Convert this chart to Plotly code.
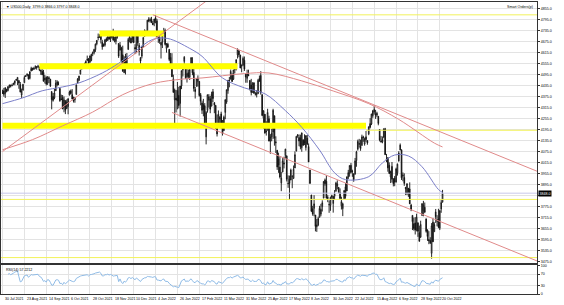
import plotly.graph_objects as go
import pandas as pd

# ---------------- data (US500 daily, 30 Jul 2021 .. 25 Oct 2022) ----------------
open_ = [
 4395, 4406,4392,4415,4408,4429,4437,4435,4442,4447,4464,4462,4462,4440,4383,4410,4450,4484,4490,4493,4474,4514,4529,
 4529,4534,4532,4535,4536,4518,4513,4506,4474,4479,4447,4477,4469,4402,4375,4367,4406,4438,4443,4419,4362,4370,
 4317,4348,4310,4320,4384,4406,4385,4368,4358,4386,4448,4463,4497,4524,4532,4550,4553,4578,4580,4562,4572,
 4610,4613,4630,4662,4699,4702,4707,4670,4659,4656,4689,4680,4701,4700,4708,4712,4679,4675,4701,4664,4628,4640,
 4602,4504,4589,4548,4631,4690,4691,4687,4710,4642,4637,4719,4653,4587,4595,4650,4703,4725,4733,4795,4788,4795,4776,
 4778,4804,4788,4693,4698,4655,4670,4729,4734,4637,4660,4632,4588,4548,4471,4357,4366,4408,4381,4337,4432,
 4519,4566,4535,4482,4505,4480,4547,4553,4506,4413,4430,4456,4457,4385,4340,4332,4325,4155,4299,4354,
 4363,4322,4401,4342,4327,4202,4224,4252,4280,4202,4189,4288,4345,4407,4462,4469,4494,4469,4522,4541,4602,4624,4600,
 4540,4547,4572,4495,4474,4494,4462,4437,4397,4449,4390,4385,4390,4473,4490,4385,4256,4278,4187,4223,4254,
 4131,4155,4181,4270,4128,4082,4036,3990,3904,3963,4013,4053,4052,3900,3927,3920,3942,3929,3985,4077,4158,4151,
 4150,4096,4137,4135,4097,4148,4102,3974,3838,3763,3765,3729,3665,3675,3716,3734,3775,3821,3920,3913,3826,3786,
 3781,3825,3792,3831,3858,3888,3880,3851,3779,3764,3818,3883,3860,3935,3955,4000,3966,3954,3951,4026,4088,
 4113,4104,4108,4154,4116,4155,4134,4171,4227,4225,4270,4290,4281,4273,4267,4195,4133,4127,4154,4199,4034,4041,4000,
 3937,3994,3924,3930,3909,3959,4022,4083,4084,3941,3933,3880,3849,3875,3871,3783,3727,3682,3686,3651,3687,3633,
 3609,3726,3753,3771,3707,3647,3595,3590,3520,3690,3638,3746,3703,3707,3657,3762,3799,
]
high = [
 4412, 4422,4424,4416,4430,4440,4439,4445,4449,4461,4468,4480,4462,4454,4418,4444,4489,4492,4501,4495,4513,4537,4531,
 4537,4545,4541,4548,4536,4521,4529,4520,4492,4485,4486,4485,4471,4402,4394,4416,4465,4463,4457,4419,4385,4383,
 4375,4356,4359,4365,4407,4413,4415,4374,4372,4440,4475,4488,4520,4540,4551,4559,4572,4598,4585,4598,4608,
 4620,4635,4664,4683,4718,4714,4709,4684,4664,4689,4697,4714,4701,4708,4717,4744,4701,4702,4706,4664,4672,4646,
 4652,4595,4608,4612,4694,4705,4695,4713,4710,4660,4712,4731,4666,4587,4651,4697,4741,4735,4791,4807,4805,4809,4787,
 4797,4819,4798,4726,4710,4673,4714,4749,4745,4666,4668,4632,4612,4611,4494,4418,4411,4454,4428,4432,4516,
 4550,4595,4543,4540,4522,4531,4588,4589,4526,4427,4472,4490,4457,4394,4352,4362,4339,4295,4385,4388,
 4378,4401,4416,4342,4327,4277,4299,4268,4292,4247,4271,4358,4412,4465,4481,4522,4501,4520,4546,4576,4637,4627,4603,
 4549,4593,4593,4503,4521,4521,4464,4471,4453,4453,4400,4410,4471,4489,4513,4386,4300,4279,4240,4308,4270,
 4170,4200,4308,4270,4158,4082,4069,4050,3964,4039,4047,4090,4052,3945,3944,3982,3942,3999,4076,4158,4170,4168,
 4167,4177,4143,4169,4165,4165,4119,3975,3839,3779,3837,3729,3707,3720,3779,3790,3809,3913,3928,3945,3837,3808,
 3829,3840,3832,3865,3910,3918,3880,3874,3829,3796,3863,3903,3939,3975,3999,4013,3976,3954,4040,4079,4140,
 4144,4140,4167,4161,4151,4187,4137,4211,4257,4280,4302,4326,4302,4292,4267,4195,4160,4157,4200,4204,4062,4044,4016,
 3971,4018,3930,3942,3987,4010,4077,4119,4087,3961,3956,3880,3900,3876,3907,3790,3727,3715,3717,3736,3687,3671,
 3698,3793,3806,3797,3711,3651,3641,3608,3685,3712,3689,3762,3728,3763,3757,3810,3866,
]
low = [
 4389, 4374,4367,4398,4403,4420,4424,4430,4436,4436,4460,4437,4417,4397,4367,4406,4450,4482,4485,4468,4468,4513,4515,
 4522,4524,4521,4532,4513,4493,4493,4457,4446,4435,4438,4448,4427,4305,4347,4360,4406,4430,4436,4346,4355,4307,
 4289,4279,4307,4278,4380,4386,4360,4342,4341,4386,4448,4460,4496,4524,4526,4531,4547,4569,4551,4559,4567,
 4595,4604,4618,4654,4681,4694,4664,4630,4648,4647,4672,4679,4684,4672,4690,4680,4670,4659,4690,4585,4626,4560,
 4510,4504,4495,4540,4631,4670,4665,4670,4667,4606,4611,4651,4598,4531,4583,4643,4703,4720,4733,4780,4778,4775,4765,
 4758,4774,4699,4667,4662,4582,4639,4716,4653,4614,4640,4568,4531,4481,4395,4222,4288,4305,4310,4265,4415,
 4484,4545,4470,4451,4471,4465,4547,4491,4402,4364,4430,4429,4374,4327,4280,4267,4221,4114,4287,4315,
 4284,4322,4345,4284,4199,4157,4224,4209,4202,4162,4187,4251,4335,4390,4425,4469,4455,4465,4501,4517,4582,4589,4530,
 4507,4540,4514,4450,4450,4487,4408,4381,4397,4392,4380,4370,4390,4455,4385,4268,4200,4175,4162,4188,4131,
 4063,4131,4144,4107,4067,3975,3959,3928,3859,3963,3983,4033,3912,3877,3811,3919,3875,3925,3985,4077,4150,4104,
 4087,4074,4107,4110,4080,4110,4018,3901,3745,3725,3722,3640,3637,3668,3716,3722,3748,3821,3889,3820,3799,3741,
 3752,3815,3742,3811,3858,3869,3847,3815,3759,3723,3817,3818,3860,3925,3938,3956,3937,3910,3951,3992,4080,
 4097,4079,4107,4128,4107,4128,4112,4164,4201,4219,4259,4277,4253,4262,4218,4130,4124,4120,4147,4057,4017,3965,3954,
 3903,3906,3885,3886,3906,3944,4022,4083,3920,3913,3888,3838,3838,3828,3789,3750,3647,3644,3623,3640,3610,3584,
 3604,3726,3722,3739,3633,3588,3570,3571,3491,3582,3638,3686,3667,3657,3647,3741,3797,
]
close = [
 4395, 4387,4423,4402,4429,4437,4432,4436,4447,4460,4468,4479,4448,4400,4405,4441,4479,4486,4496,4470,4509,4528,4523,
 4524,4537,4535,4540,4520,4514,4493,4458,4468,4443,4480,4473,4432,4358,4354,4395,4448,4455,4443,4352,4359,4307,
 4357,4300,4345,4363,4399,4391,4361,4350,4364,4438,4471,4486,4519,4536,4549,4545,4567,4574,4551,4596,4605,
 4613,4631,4660,4680,4697,4702,4685,4646,4649,4683,4682,4700,4688,4705,4698,4682,4690,4701,4700,4595,4655,4567,
 4513,4577,4538,4591,4686,4701,4667,4712,4668,4634,4709,4668,4620,4568,4649,4697,4725,4730,4791,4786,4793,4778,4766,
 4797,4793,4700,4696,4677,4670,4713,4726,4659,4663,4645,4577,4533,4483,4398,4410,4356,4350,4326,4432,4516,
 4546,4589,4477,4501,4484,4522,4587,4504,4419,4402,4472,4475,4380,4349,4300,4305,4226,4288,4385,4374,
 4306,4387,4364,4329,4201,4171,4278,4260,4204,4173,4262,4358,4412,4463,4461,4512,4457,4520,4543,4576,4632,4602,4530,
 4546,4583,4525,4481,4500,4488,4413,4397,4447,4392,4388,4391,4463,4459,4394,4272,4297,4175,4184,4288,4132,
 4155,4175,4300,4147,4123,3991,4001,3936,3930,4024,4008,4088,3924,3901,3901,3974,3941,3979,4058,4158,4165,4132,
 4101,4177,4109,4121,4161,4116,4018,3901,3750,3735,3790,3667,3675,3710,3765,3760,3796,3912,3900,3821,3819,3785,
 3825,3835,3831,3845,3903,3899,3855,3819,3802,3790,3863,3831,3937,3960,3999,3962,3967,3921,4024,4073,4130,
 4119,4091,4155,4152,4145,4140,4122,4210,4207,4280,4297,4305,4275,4284,4228,4138,4128,4141,4199,4058,4031,3986,3955,
 3966,3924,3900,3908,3980,4006,4067,4110,3932,3946,3901,3873,3900,3856,3790,3758,3693,3655,3647,3719,3640,3586,
 3678,3791,3783,3745,3640,3612,3589,3577,3670,3583,3677,3720,3695,3665,3752,3797,3848,
]

date_labels = ["30 Jul 2021", "23 Aug 2021", "14 Sep 2021", "6 Oct 2021", "28 Oct 2021",
               "18 Nov 2021", "10 Dec 2021", "4 Jan 2022", "26 Jan 2022", "17 Feb 2022",
               "11 Mar 2022", "31 Mar 2022", "25 Apr 2022", "17 May 2022", "8 Jun 2022",
               "30 Jun 2022", "22 Jul 2022", "15 Aug 2022", "6 Sep 2022", "28 Sep 2022",
               "20 Oct 2022"]
label_every = 16

price_ticks = [3475 + 60 * k for k in range(24)]
rsi_ticks = [0, 30, 70, 100]

# moving averages (bar index, price)
ma_fast_bar = [0, 15, 29, 44, 56, 73, 85, 97, 110, 121, 137, 146, 161, 177, 192, 207, 219, 232,
               243, 251, 268, 278, 287, 297, 307, 319, 322]
ma_fast_val = [4336, 4368, 4406, 4427, 4449, 4503, 4556, 4621, 4686, 4691, 4637, 4594, 4476, 4422,
               4390, 4298, 4207, 4083, 3959, 3922, 3938, 4013, 4056, 4051, 3992, 3868, 3852]
ma_slow_bar = [0, 22, 44, 66, 88, 110, 132, 146, 161, 177, 195, 219, 242, 268, 290, 316, 322]
ma_slow_val = [4085, 4140, 4215, 4290, 4385, 4445, 4470, 4476, 4488, 4500, 4503, 4460, 4405,
               4336, 4250, 4121, 4100]

# trend lines (bar, price)
trend_up_bar, trend_up_val = [0, 160], [4075, 4955]
chan_top_bar, chan_top_val = [110, 395], [4820, 3956]
chan_bot_bar, chan_bot_val = [124, 395], [4288, 3467]

# support / resistance zones (price, first bar, last bar)
zone_price = [4718, 4540, 4215]
zone_from = [71, 27, 0]
zone_to = [118, 172, 266]
level_price = [4820, 4191, 3814, 3497]
level_from = [-5, 266, -5, -5]

# ---------------- geometry ----------------
W, H = 564, 305
PLOT_R = 537
MAIN_T, MAIN_B = 0, 264
RSI_T, RSI_B = 267, 296
PX_BAR = 1.369
X0 = -1.1
X1 = X0 + PLOT_R / PX_BAR
Y_LO, Y_HI = 3470, 4890
PRICE_PER_PX = (Y_HI - Y_LO) / (MAIN_B - MAIN_T)

n = len(close)
assert len(open_) == len(high) == len(low) == n
idx = list(range(n))

s = pd.Series(close, dtype=float)
d = s.diff()
up = d.clip(lower=0).ewm(alpha=1 / 14, adjust=True, min_periods=4).mean()
dn = (-d.clip(upper=0)).ewm(alpha=1 / 14, adjust=True, min_periods=4).mean()
rsi = 100 - 100 / (1 + up / dn)

FONT = "Liberation Sans"
FS = 3.6
GRID = "#e3e3e3"

fig = go.Figure()

for lv, lf in zip(level_price, level_from):
    fig.add_trace(go.Scatter(x=[lf, 420], y=[lv, lv], mode="lines",
                             line=dict(color="#f2f25a", width=1), hoverinfo="skip"))
fig.add_trace(go.Scatter(x=[-5, 420], y=[close[-1], close[-1]], mode="lines",
                         line=dict(color="#c9c9ea", width=1), hoverinfo="skip"))
for zp, zf, zt in zip(zone_price, zone_from, zone_to):
    fig.add_trace(go.Scatter(x=[zf, zt], y=[zp, zp], mode="lines",
                             line=dict(color="#ffff00", width=6), hoverinfo="skip"))

fig.add_trace(go.Candlestick(
    x=idx, open=open_, high=high, low=low, close=close,
    increasing=dict(line=dict(color="#111111", width=0.9), fillcolor="#ffffff"),
    decreasing=dict(line=dict(color="#111111", width=0.9), fillcolor="#111111"),
    whiskerwidth=0, hoverinfo="skip"))

RED = "#e08a8a"
fig.add_trace(go.Scatter(x=ma_slow_bar, y=ma_slow_val, mode="lines",
                         line=dict(color=RED, width=1, shape="spline"), hoverinfo="skip"))
fig.add_trace(go.Scatter(x=ma_fast_bar, y=ma_fast_val, mode="lines",
                         line=dict(color="#7b7fc8", width=1, shape="spline"), hoverinfo="skip"))
for bx, by in [(trend_up_bar, trend_up_val), (chan_top_bar, chan_top_val), (chan_bot_bar, chan_bot_val)]:
    fig.add_trace(go.Scatter(x=bx, y=by, mode="lines", line=dict(color=RED, width=1),
                             hoverinfo="skip"))

fig.add_trace(go.Scatter(x=idx, y=rsi, mode="lines", line=dict(color="#8fbbe6", width=1),
                         xaxis="x2", yaxis="y2", hoverinfo="skip"))

tickpos = [label_every * k for k in range(len(date_labels))]
# the current-price box covers the scale label that sits under it
price_text = ["" if abs(v - close[-1]) < 7 * PRICE_PER_PX else f"{v:.1f}" for v in price_ticks]

axis_common = dict(range=[X0, X1], domain=[0, PLOT_R / W], tickvals=tickpos,
                   showticklabels=False, showgrid=True, gridcolor=GRID, gridwidth=1,
                   zeroline=False, showline=True, mirror=True, linecolor="#333333", linewidth=1,
                   ticks="")
fig.update_layout(
    width=W, height=H, margin=dict(l=0, r=0, t=0, b=0),
    paper_bgcolor="white", plot_bgcolor="white", showlegend=False,
    xaxis=dict(anchor="y", rangeslider=dict(visible=False), **axis_common),
    xaxis2=dict(anchor="y2", **axis_common),
    yaxis=dict(domain=[1 - MAIN_B / H, 1 - MAIN_T / H], range=[Y_LO, Y_HI], side="right",
               tickvals=price_ticks, ticktext=price_text,
               tickfont=dict(family=FONT, size=FS, color="#000"),
               ticks="outside", ticklen=2, tickcolor="#333", showgrid=True, gridcolor=GRID,
               zeroline=False, showline=True, mirror=True, linecolor="#333333", linewidth=1),
    yaxis2=dict(domain=[1 - RSI_B / H, 1 - RSI_T / H], range=[0, 100], side="right",
                tickvals=rsi_ticks, ticktext=[str(v) for v in rsi_ticks],
                tickfont=dict(family=FONT, size=FS, color="#000"),
                ticks="outside", ticklen=2, tickcolor="#333", showgrid=True, gridcolor=GRID,
                zeroline=False, showline=True, mirror=True, linecolor="#333333", linewidth=1),
)

ann = []
for p, lab in zip(tickpos, date_labels):
    ann.append(dict(x=p + 0.5, xref="x2", y=1 - 300.5 / H, yref="paper", text=lab,
                    showarrow=False, xanchor="left", yanchor="middle",
                    font=dict(family=FONT, size=FS, color="#000")))
ann.append(dict(x=3 / W, y=1 - 1 / H, xref="paper", yref="paper", xanchor="left", yanchor="top",
                text=f"▼ US500,Daily  {open_[-1]:.1f} {high[-1]:.1f} {low[-1]:.1f} {close[-1]:.1f}",
                showarrow=False, font=dict(family=FONT, size=FS, color="#000")))
ann.append(dict(x=(PLOT_R - 2) / W, y=1 - 1 / H, xref="paper", yref="paper", xanchor="right",
                yanchor="top", text="Smart Orders(p)", showarrow=False,
                font=dict(family=FONT, size=FS, color="#000")))
ann.append(dict(x=3 / W, y=1 - (RSI_T + 1) / H, xref="paper", yref="paper", xanchor="left",
                yanchor="top", text=f"RSI(14) {rsi.iloc[-1]:.4f}", showarrow=False,
                font=dict(family=FONT, size=FS, color="#000")))
ann.append(dict(x=(PLOT_R + 1) / W, xref="paper", y=close[-1], yref="y", xanchor="left",
                yanchor="middle", text=f"{close[-1]:.1f}", showarrow=False, bgcolor="#000",
                borderpad=0.5, font=dict(family=FONT, size=FS, color="#fff")))
fig.update_layout(annotations=ann)

fig.write_html("out.html")
